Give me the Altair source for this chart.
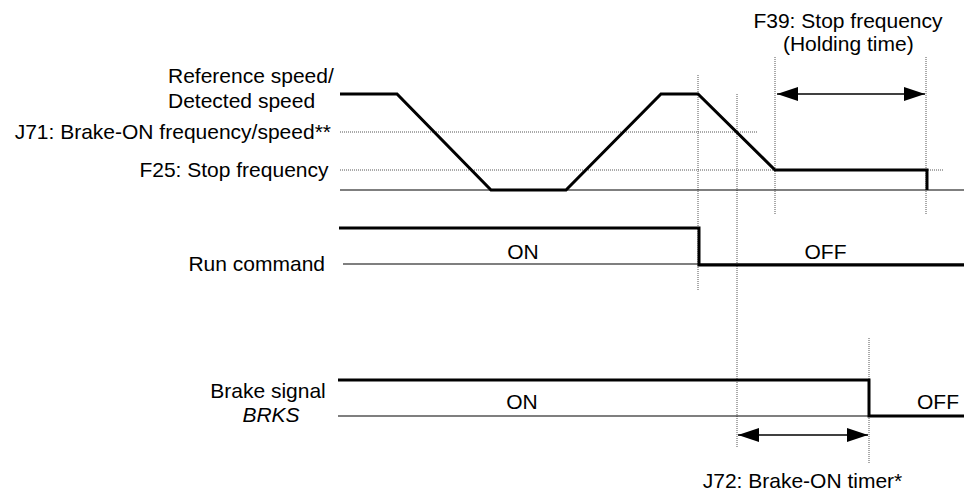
import altair as alt
import pandas as pd

# ---- waveform data (time units on x, level units on y; larger level = lower on page) ----
speed_t = [340, 397, 491, 566, 661, 698, 775, 927, 927]
speed_v = [94, 94, 190, 190, 94, 94, 170, 170, 190]
run_t = [339, 699, 699, 972]
run_v = [228, 228, 265, 265]
brake_t = [338, 869, 869, 972]
brake_v = [380, 380, 416, 416]

# thin baselines (zero level of each signal)
base_t1 = [340, 343, 338]
base_t2 = [972, 972, 972]
base_v = [190, 264, 416]

# dotted reference levels
hdot_t1 = [340, 340]
hdot_t2 = [758, 944]
hdot_v = [132, 170]

# dotted event markers
vdot_t = [698, 737, 775, 926, 869]
vdot_v1 = [75, 94, 57, 57, 338]
vdot_v2 = [291, 448, 214, 214, 463]

# interval arrows
arrow_t1 = [777, 738]
arrow_t2 = [925, 868]
arrow_v = [94, 435]

# labels
left_text = ["Reference speed/", "Detected speed"]
left_t = [168, 168]
left_v = [82.7, 108]

right_text = ["J71: Brake-ON frequency/speed**", "F25: Stop frequency", "Run command"]
right_t = [331, 328.5, 325]
right_v = [139.3, 176.7, 271]

center_text = ["Brake signal", "ON", "OFF", "ON", "OFF", "J72: Brake-ON timer*",
               "F39: Stop frequency", "(Holding time)"]
center_t = [268, 523, 825.5, 522, 938, 802.5, 848, 848.3]
center_v = [398, 259, 259.3, 409, 409.3, 488, 28.3, 50.5]

italic_text = ["BRKS"]
italic_t = [271]
italic_v = [422.3]

FONT = "Liberation Sans"
FS = 21

xs = alt.Scale(domain=[8, 964], nice=False, zero=False)
ys = alt.Scale(domain=[8, 493], nice=False, zero=False, reverse=True)


def X(f):
    return alt.X(f, type="quantitative", scale=xs, axis=None)


def Y(f):
    return alt.Y(f, type="quantitative", scale=ys, axis=None)


def wave(ts, vs, name):
    df = pd.DataFrame({"t": ts, "v": vs, "i": list(range(len(ts))), "sig": name})
    return alt.Chart(df).mark_line(color="black", strokeWidth=3, clip=True,
                                   strokeJoin="miter").encode(
        x=X("t"), y=Y("v"), order="i:Q")


speed = wave(speed_t, speed_v, "speed")
run = wave(run_t, run_v, "run")
brake = wave(brake_t, brake_v, "brake")

base_df = pd.DataFrame({"t1": base_t1, "t2": base_t2, "v": base_v})
bases = alt.Chart(base_df).mark_rule(color="black", strokeWidth=1.2, clip=True).encode(
    x=X("t1"), x2="t2:Q", y=Y("v"))

hdot_df = pd.DataFrame({"t1": hdot_t1, "t2": hdot_t2, "v": hdot_v})
hdots = alt.Chart(hdot_df).mark_rule(color="#555555", strokeWidth=1,
                                     strokeDash=[1, 1]).encode(
    x=X("t1"), x2="t2:Q", y=Y("v"))

vdot_df = pd.DataFrame({"t": vdot_t, "v1": vdot_v1, "v2": vdot_v2})
vdots = alt.Chart(vdot_df).mark_rule(color="#555555", strokeWidth=1,
                                     strokeDash=[1, 1]).encode(
    x=X("t"), y=Y("v1"), y2="v2:Q")

arr_df = pd.DataFrame({"t1": arrow_t1, "t2": arrow_t2, "v": arrow_v})
shafts = alt.Chart(arr_df).mark_rule(color="black", strokeWidth=1.3).encode(
    x=X("t1"), x2="t2:Q", y=Y("v"))

HEAD = 1764
left_heads = alt.Chart(arr_df).mark_point(
    shape="M0,0 L1,-0.333 L1,0.333 Z", filled=True, size=HEAD, color="black",
    opacity=1, strokeWidth=0).encode(x=X("t1"), y=Y("v"))
right_heads = alt.Chart(arr_df).mark_point(
    shape="M0,0 L-1,-0.333 L-1,0.333 Z", filled=True, size=HEAD, color="black",
    opacity=1, strokeWidth=0).encode(x=X("t2"), y=Y("v"))


def labels(texts, ts, vs, align, style="normal"):
    df = pd.DataFrame({"txt": texts, "t": ts, "v": vs})
    return alt.Chart(df).mark_text(align=align, baseline="alphabetic", font=FONT,
                                   fontSize=FS, fontStyle=style, color="black").encode(
        x=X("t"), y=Y("v"), text="txt:N")


lab_left = labels(left_text, left_t, left_v, "left")
lab_right = labels(right_text, right_t, right_v, "right")
lab_center = labels(center_text, center_t, center_v, "center")
lab_italic = labels(italic_text, italic_t, italic_v, "center", "italic")

chart = alt.layer(
    hdots, vdots, bases, speed, run, brake, shafts, left_heads, right_heads,
    lab_left, lab_right, lab_center, lab_italic
).properties(
    width=956, height=485, padding=0, autosize=alt.AutoSizeParams(type="none"),
    background="white"
).configure_view(strokeWidth=0)

chart.save("out.html", embed_options={"renderer": "svg", "actions": False})
